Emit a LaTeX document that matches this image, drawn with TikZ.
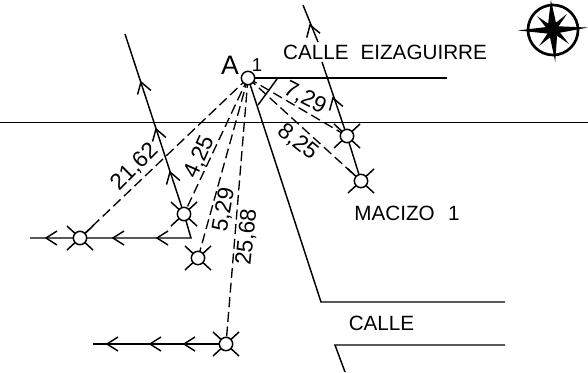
\documentclass[tikz,border=0pt]{standalone}
\usepackage{fontspec}
\setmainfont{Liberation Sans}
\begin{document}
\begin{tikzpicture}[x=0.75pt,y=-0.75pt,
  lw/.style={line width=1.1pt},
  thin line/.style={line width=0.6pt},
  thick line/.style={line width=1.5pt},
  sight/.style={line width=1pt,dash pattern=on 7.5pt off 3.5pt},
  station/.style={circle,draw,line width=1.1pt,fill=white,minimum size=10pt,inner sep=0pt},
  lab/.style={inner sep=0pt,font=\fontsize{15.5}{16}\selectfont},
  dist/.style={inner sep=0pt,font=\fontsize{17}{18}\selectfont},
  chev/.pic={\draw[lw] (-11,-7) -- (0,0) -- (-11,7);}
]
\useasboundingbox (0,0) rectangle (588,372);
% reference horizontal
\coordinate (hl) at (0,122); \coordinate (hr) at (588,122);
\draw[thin line] (hl) -- (hr);
% coordinates
\coordinate (Apt) at (248,78);
\coordinate (P1) at (347,136);
\coordinate (P2) at (361,181);
\coordinate (P3) at (184,214);
\coordinate (P4) at (80,238);
\coordinate (P5) at (198,258);
\coordinate (P6) at (226,344);
% sight lines
\draw[sight] (Apt) -- (P1);
\draw[sight] (Apt) -- (P2);
\draw[sight] (Apt) -- (P3);
\draw[sight] (Apt) -- (P4);
\draw[sight] (Apt) -- (P5);
\draw[sight] (Apt) -- (P6);
% street lines
\coordinate (s1) at (447,78);
\coordinate (s2) at (277,79);
\coordinate (s3) at (258,105);
\coordinate (s4) at (321,302);
\coordinate (s5) at (505,302);
\coordinate (s6) at (505,345);
\coordinate (s7) at (335,345);
\coordinate (s8) at (345,372);
\draw[thick line] (Apt) -- (s1);
\draw[lw] (s2) -- (s3);
\draw[lw] (Apt) -- (s4) -- (s5);
\draw[lw] (s6) -- (s7) -- (s8);
% traverse lines
\coordinate (t1) at (303,5);
\coordinate (t2) at (318,42);
\coordinate (t2b) at (322,62);
\coordinate (t3) at (125,34);
\coordinate (t4) at (191,238);
\coordinate (t5) at (30,238);
\coordinate (t6) at (93,344);
\draw[lw] (t1) -- (t2);
\draw[lw] (t2b) -- (P1) -- (P2);
\draw[lw] (t3) -- (P3) -- (t4) -- (t5);
\draw[lw] (P6) -- (t6);
% arrowheads
\pic[rotate=108] at (310,25) {chev};
\pic[rotate=107] at (333,98) {chev};
\pic[rotate=107] at (141,82) {chev};
\pic[rotate=107] at (156,129) {chev};
\pic[rotate=107] at (170,172) {chev};
\pic[rotate=180] at (157,238) {chev};
\pic[rotate=180] at (113,238) {chev};
\pic[rotate=180] at (46,238) {chev};
\pic[rotate=180] at (107,344) {chev};
\pic[rotate=180] at (150,344) {chev};
\pic[rotate=180] at (184,344) {chev};
% station ticks
\foreach \p in {P1,P2,P3,P4,P5,P6}{
  \draw[lw] (\p) ++(-13,-12) -- ++(26,24);
  \draw[lw] (\p) ++(13,-12) -- ++(-26,24);
}
% stations
\node[station] (A) at (Apt) {};
\node[station] (n1) at (P1) {};
\node[station] (n2) at (P2) {};
\node[station] (n3) at (P3) {};
\node[station] (n4) at (P4) {};
\node[station] (n5) at (P5) {};
\node[station] (n6) at (P6) {};
% labels
\node[inner sep=0pt,font=\fontsize{20}{21}\selectfont] (lA) at (230,65) {A};
\node[inner sep=0pt,font=\fontsize{14}{15}\selectfont] (l1) at (257,65) {1};
\node[lab] (calle) at (385,52) {CALLE\hspace{9pt}EIZAGUIRRE};
\node[lab] (macizo) at (407,213) {MACIZO\hspace{10pt}1};
\node[lab] (calle2) at (381.5,323) {CALLE};
\node[dist,rotate=-27] (d1) at (305,98) {7,29};
\node[dist,rotate=-39] (d2) at (298,142) {8,25};
\node[dist,rotate=45] (d3) at (135,167) {21,62};
\node[dist,rotate=66] (d4) at (200,157) {4,25};
\node[dist,rotate=80] (d5) at (224,210) {5,29};
\node[dist,rotate=84] (d6) at (247,237) {25,68};
% compass
\coordinate (c) at (553,30);
\draw[line width=2pt] (c) circle (25);
\begin{scope}[shift={(c)},rotate=4]
  \fill (-35,-2) -- (-5,-3.5) -- (0,-30) -- (4,-3.5) -- (35,0) -- (4,3.5) -- (0,32) -- (-4,3.5) -- cycle;
  \fill (-15,-15) -- (-1,-4) -- (15,-15) -- (4,-1) -- (15,15) -- (1,4) -- (-15,15) -- (-4,1) -- cycle;
\end{scope}
\end{tikzpicture}
\end{document}
